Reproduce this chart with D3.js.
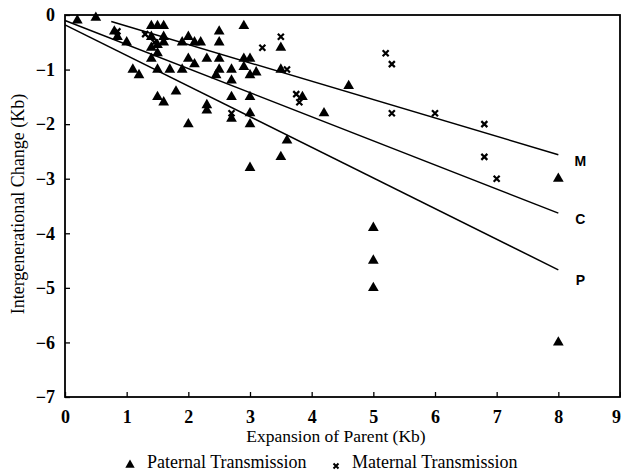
<!DOCTYPE html>
<html lang="en">
<head>
  <meta charset="UTF-8" />
  <title>Intergenerational Change vs Expansion of Parent</title>
  <style>
    body { margin: 0; background: #fff; }
    svg text { font-family: "Liberation Serif", "Times New Roman", serif; fill: #000; }
  </style>
</head>
<body>
  <div id="chart"></div>

  <script src="https://d3js.org/d3.v7.min.js"></script>
  <script>
    // Paternal transmission points (triangles)
    const paternalX = [0.2, 0.5, 0.8, 0.85, 1.0, 1.1, 1.2,
      1.4, 1.5, 1.6, 1.4, 1.6, 1.6, 1.4, 1.5, 1.5, 1.4,
      1.5, 1.7, 1.9, 1.8, 1.5, 1.6, 2.0,
      1.9, 2.0, 2.1, 2.2, 2.0, 2.1,
      2.3, 2.5, 2.5, 2.5, 2.5, 2.45, 2.7, 2.3, 2.3,
      2.9, 2.9, 3.0, 2.9, 3.0, 3.1, 2.7, 2.7, 3.0, 2.7, 3.0, 3.0,
      3.0, 3.5, 3.6, 3.5, 3.5, 3.85, 4.2, 4.6,
      5.0, 5.0, 5.0, 8.0, 8.0];
    const paternalY = [-0.1, -0.05, -0.3, -0.4, -0.5, -1.0, -1.1,
      -0.2, -0.2, -0.2, -0.4, -0.4, -0.5, -0.6, -0.55, -0.7, -0.8,
      -1.0, -1.0, -1.0, -1.4, -1.5, -1.6, -2.0,
      -0.5, -0.4, -0.5, -0.5, -0.8, -0.9,
      -0.8, -0.3, -0.5, -0.8, -1.0, -1.1, -1.0, -1.65, -1.75,
      -0.2, -0.8, -0.8, -0.95, -1.1, -1.05, -1.2, -1.5, -1.5, -1.9, -1.8, -2.0,
      -2.8, -2.6, -2.3, -0.6, -1.0, -1.5, -1.8, -1.3,
      -3.9, -4.5, -5.0, -3.0, -6.0];

    // Maternal transmission points (crosses)
    const maternalX = [0.85, 1.3, 1.45, 2.7, 3.2, 3.5, 3.6, 3.75, 3.8, 5.2, 5.3, 5.3, 6.0, 6.8, 6.8, 7.0];
    const maternalY = [-0.3, -0.35, -0.5, -1.8, -0.6, -0.4, -1.0, -1.45, -1.6, -0.7, -0.9, -1.8, -1.8, -2.0, -2.6, -3.0];

    // Regression lines: M (maternal), C (combined), P (paternal)
    const lineNames = ["M", "C", "P"];
    const lineX0 = [0.75, 0, 0];
    const lineY0 = [-0.12, -0.1, -0.18];
    const lineX1 = [8, 8, 8];
    const lineY1 = [-2.56, -3.63, -4.67];

    const xTicks = [0, 1, 2, 3, 4, 5, 6, 7, 8, 9];
    const yTicks = [0, -1, -2, -3, -4, -5, -6, -7];

    // Chart setup
    const width = 621, height = 474;
    const margin = { top: 15, right: 1, bottom: 77, left: 65 };
    const innerW = width - margin.left - margin.right;
    const innerH = height - margin.top - margin.bottom;
    const serif = '"Liberation Serif", "Times New Roman", serif';

    const svg = d3.select("#chart").append("svg")
      .attr("width", width)
      .attr("height", height);

    const g = svg.append("g")
      .attr("transform", `translate(${margin.left},${margin.top})`);

    const x = d3.scaleLinear().domain([0, 9]).range([0, innerW]);
    const y = d3.scaleLinear().domain([0, -7]).range([0, innerH]);

    // Axes with inward ticks
    const xAxis = g.append("g")
      .attr("transform", `translate(0,${innerH})`)
      .call(d3.axisBottom(x).tickValues(xTicks).tickFormat(d3.format("d"))
        .tickSizeInner(-5).tickSizeOuter(0).tickPadding(13));
    const yAxis = g.append("g")
      .call(d3.axisLeft(y).tickValues(yTicks).tickFormat(d3.format("d"))
        .tickSizeInner(-5).tickSizeOuter(0).tickPadding(10));

    [xAxis, yAxis].forEach(a => {
      a.attr("font-family", serif).attr("font-size", 18);
      a.select(".domain").remove();
      a.selectAll(".tick line").attr("stroke", "#000").attr("stroke-width", 1.3);
      a.selectAll(".tick text").attr("font-weight", "bold");
    });
    // keep the last x label inside the picture
    xAxis.selectAll(".tick text").filter(d => d === 9).attr("dx", -4);

    // Frame
    g.append("rect")
      .attr("x", 0).attr("y", 0)
      .attr("width", innerW).attr("height", innerH)
      .attr("fill", "none")
      .attr("stroke", "#000")
      .attr("stroke-width", 1.8);

    // Regression lines
    const labelDy = [6, 6, 10];
    lineNames.forEach((name, i) => {
      g.append("line")
        .attr("x1", x(lineX0[i])).attr("y1", y(lineY0[i]))
        .attr("x2", x(lineX1[i])).attr("y2", y(lineY1[i]))
        .attr("stroke", "#000")
        .attr("stroke-width", 1.5);
      g.append("text")
        .attr("x", x(lineX1[i]) + 22)
        .attr("y", y(lineY1[i]) + labelDy[i] + 5)
        .attr("text-anchor", "middle")
        .style("font-family", '"Liberation Sans", Arial, sans-serif')
        .style("font-weight", "bold")
        .style("font-size", "14px")
        .text(name);
    });

    // Triangle and cross shapes
    const tri = d3.symbol().type(d3.symbolTriangle).size(50);
    const cross = "M-3,-3L3,3M-3,3L3,-3";

    g.selectAll(".pat")
      .data(paternalX.map((v, i) => [v, paternalY[i]]))
      .join("path")
      .attr("class", "pat")
      .attr("d", tri)
      .attr("transform", d => `translate(${x(d[0])},${y(d[1])})`)
      .attr("fill", "#000");

    g.selectAll(".mat")
      .data(maternalX.map((v, i) => [v, maternalY[i]]))
      .join("path")
      .attr("class", "mat")
      .attr("d", cross)
      .attr("transform", d => `translate(${x(d[0])},${y(d[1])})`)
      .attr("stroke", "#000")
      .attr("stroke-width", 2.2)
      .attr("fill", "none");

    // Axis titles
    svg.append("text")
      .attr("x", 336)
      .attr("y", 442)
      .attr("text-anchor", "middle")
      .style("font-size", "17.5px")
      .text("Expansion of Parent (Kb)");

    svg.append("text")
      .attr("transform", `translate(24,${margin.top + innerH / 2 - 2}) rotate(-90)`)
      .attr("text-anchor", "middle")
      .style("font-size", "18px")
      .text("Intergenerational Change (Kb)");

    // Legend
    const legend = svg.append("g").attr("transform", "translate(0,468)");
    legend.append("path")
      .attr("d", d3.symbol().type(d3.symbolTriangle).size(38))
      .attr("transform", "translate(130,-3)")
      .attr("fill", "#000");
    legend.append("text")
      .attr("x", 147).attr("y", 0)
      .style("font-size", "18px")
      .text("Paternal Transmission");
    legend.append("path")
      .attr("d", "M-2.5,-2.5L2.5,2.5M-2.5,2.5L2.5,-2.5")
      .attr("transform", "translate(336,-2)")
      .attr("stroke", "#000")
      .attr("stroke-width", 2)
      .attr("fill", "none");
    legend.append("text")
      .attr("x", 352).attr("y", 0)
      .style("font-size", "18px")
      .text("Maternal Transmission");
  </script>
</body>
</html>
